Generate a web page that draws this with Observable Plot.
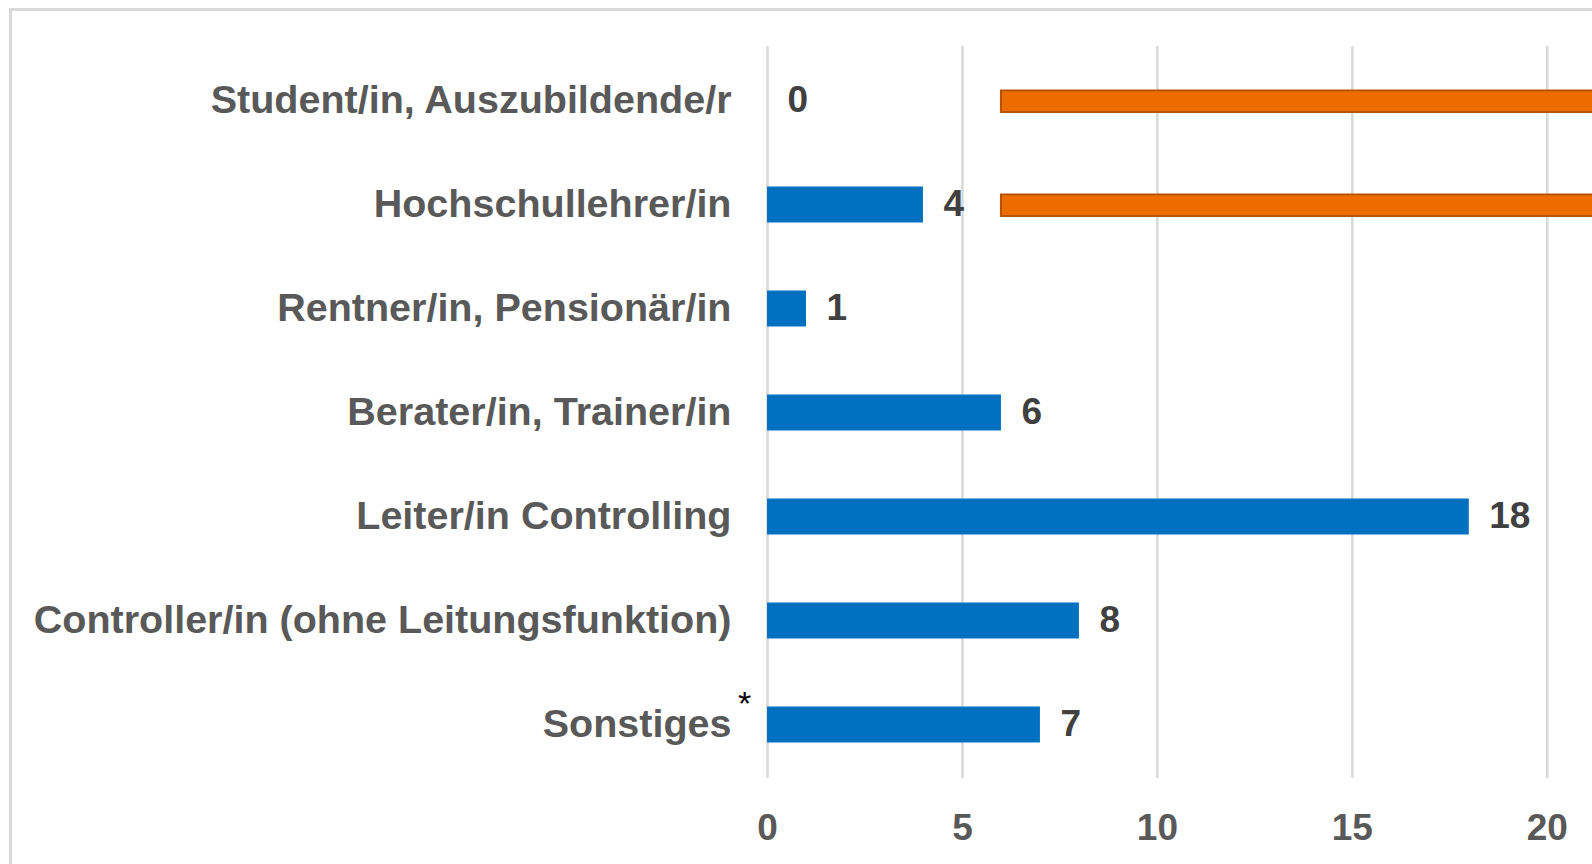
<!DOCTYPE html>
<html>
<head>
<meta charset="utf-8">
<script src="https://cdn.jsdelivr.net/npm/d3@7"></script>
<script src="https://cdn.jsdelivr.net/npm/@observablehq/plot@0.6"></script>
<style>
  html, body { margin: 0; padding: 0; background: #fff; overflow: hidden; width: 1592px; height: 864px; }
  #frame { position: absolute; left: 9px; top: 8px; width: 3000px; height: 3000px; border: 3px solid #d9d9d9; box-sizing: border-box; }
  #chart { position: absolute; left: 0; top: 0; }
</style>
</head>
<body>
<div id="frame"></div>
<div id="chart"></div>
<script>
const categories = [
  "Student/in, Auszubildende/r",
  "Hochschullehrer/in",
  "Rentner/in, Pensionär/in",
  "Berater/in, Trainer/in",
  "Leiter/in Controlling",
  "Controller/in (ohne Leitungsfunktion)",
  "Sonstiges"
];
const values = [0, 4, 1, 6, 18, 8, 7];

const orangeCategories = ["Student/in, Auszubildende/r", "Hochschullehrer/in"];
const orangeStart = [6, 6];
const orangeEnd = [30, 30];

const xTicks = [0, 5, 10, 15, 20];
const noteCategory = ["Sonstiges"];
const noteText = ["*"];

const data = categories.map((c, i) => ({cat: c, value: values[i]}));
const orange = orangeCategories.map((c, i) => ({cat: c, x1: orangeStart[i], x2: orangeEnd[i]}));
const notes = noteCategory.map((c, i) => ({cat: c, text: noteText[i]}));

const font = "'Liberation Sans', Arial, sans-serif";

const chart = Plot.plot({
  width: 1592,
  height: 864,
  marginLeft: 767,
  marginRight: 0,
  marginTop: 46,
  marginBottom: 86,
  style: {fontFamily: font, background: "transparent", overflow: "visible"},
  x: {domain: [0, 21.16], axis: null},
  y: {domain: categories, paddingInner: 0.656, paddingOuter: 0.328, axis: null},
  marks: [
    Plot.ruleX(xTicks, {x: d => d, stroke: "#d9d9d9", strokeWidth: 2.5}),
    Plot.barX(data, {y: "cat", x1: 0, x2: "value", fill: "#0070C0", insetTop: 0.5, insetBottom: -0.5}),
    Plot.barX(orange, {y: "cat", x1: "x1", x2: "x2", fill: "#EC6C00", stroke: "#B85300", strokeWidth: 2, insetTop: 8.5, insetBottom: 6, clip: true}),
    Plot.text(data, {y: "cat", x: "value", text: d => String(d.value), dx: 20, textAnchor: "start", fill: "#404040", fontSize: 37, fontWeight: "bold", fontFamily: font}),
    Plot.axisY({anchor: "left", tickSize: 0, tickPadding: 36, fontSize: 39.5, fontWeight: "bold", fill: "#595959", fontFamily: font, label: null}),
    Plot.axisX(xTicks, {anchor: "bottom", tickSize: 0, tickPadding: 35, fontSize: 37, fontWeight: "bold", fill: "#595959", fontFamily: font, label: null}),
    Plot.text(notes, {y: "cat", x: 0, text: "text", dx: -23, dy: -20, textAnchor: "middle", fill: "#000", fontSize: 34, fontFamily: font})
  ]
});
document.getElementById("chart").appendChild(chart);
</script>
</body>
</html>
